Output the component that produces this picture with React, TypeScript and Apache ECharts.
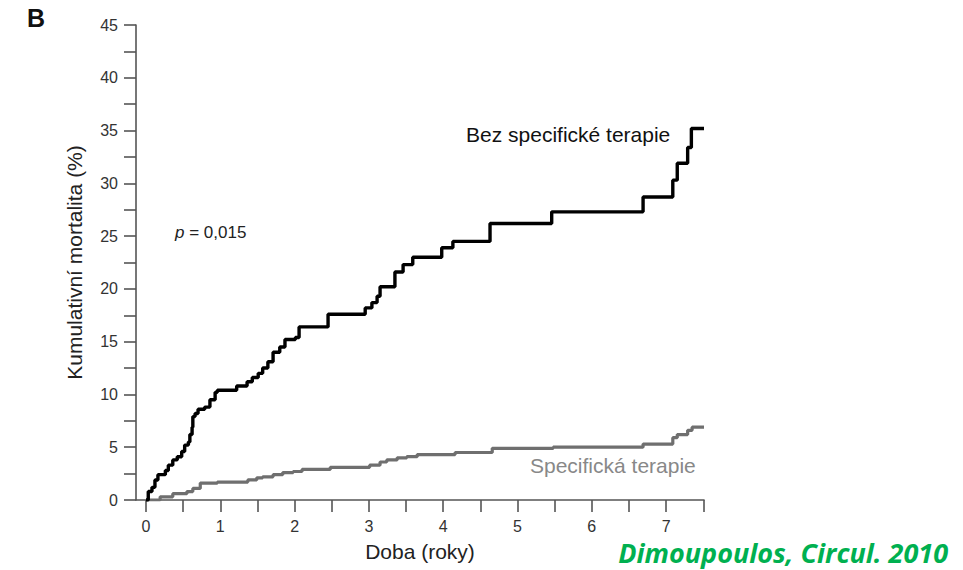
import React, { useEffect, useRef } from "react";
import * as echarts from "echarts";

// Black curve: without specific therapy (years, cumulative mortality %)
const bezX = [0, 0.03, 0.08, 0.12, 0.16, 0.26, 0.30, 0.36, 0.42, 0.48, 0.52, 0.57, 0.59, 0.62, 0.63, 0.66, 0.70, 0.79, 0.86, 0.93, 0.96, 1.22, 1.36, 1.43, 1.51, 1.57, 1.64, 1.71, 1.80, 1.87, 2.01, 2.06, 2.45, 2.95, 3.04, 3.11, 3.15, 3.35, 3.46, 3.59, 3.98, 4.13, 4.63, 5.46, 6.69, 7.09, 7.15, 7.29, 7.34, 7.51];
const bezY = [0, 0.8, 1.2, 1.9, 2.4, 2.8, 3.3, 3.8, 4.1, 4.6, 5.2, 5.5, 6.2, 6.9, 7.9, 8.2, 8.6, 8.8, 9.5, 10.2, 10.4, 10.8, 11.2, 11.6, 12.0, 12.5, 13.1, 14.0, 14.5, 15.2, 15.4, 16.4, 17.6, 18.2, 18.7, 19.3, 20.2, 21.6, 22.3, 23.0, 23.9, 24.5, 26.2, 27.3, 28.7, 30.3, 31.9, 33.4, 35.2, 35.2];

// Gray curve: specific therapy
const speX = [0, 0.19, 0.36, 0.55, 0.63, 0.73, 0.96, 1.37, 1.49, 1.57, 1.71, 1.84, 1.98, 2.10, 2.48, 3.01, 3.15, 3.24, 3.38, 3.51, 3.65, 4.16, 4.66, 5.48, 6.69, 7.09, 7.15, 7.29, 7.35, 7.51];
const speY = [0, 0.3, 0.6, 0.8, 1.1, 1.6, 1.7, 1.9, 2.1, 2.2, 2.4, 2.6, 2.7, 2.9, 3.1, 3.3, 3.6, 3.8, 4.0, 4.1, 4.3, 4.5, 4.9, 5.0, 5.3, 5.9, 6.2, 6.6, 6.9, 6.9];

const xTicks = [0, 0.5, 1, 1.5, 2, 2.5, 3, 3.5, 4, 4.5, 5, 5.5, 6, 6.5, 7, 7.5];
const xLabels = [0, 1, 2, 3, 4, 5, 6, 7];

const xName = "Doba (roky)";
const yName = "Kumulativní mortalita (%)";
const panelLabel = "B";
const pText = "0,015";
const labelBez = "Bez specifické terapie";
const labelSpe = "Specifická terapie";
const citation = "Dimoupoulos, Circul. 2010";

const FONT = "Liberation Sans, Arial, sans-serif";

export default function App() {
  const ref = useRef<HTMLDivElement>(null);
  useEffect(() => {
    if (!ref.current) return;
    const chart = echarts.init(ref.current, null, { renderer: "svg" });
    const axisColor = "#555";
    chart.setOption({
      animation: false,
      backgroundColor: "#fff",
      textStyle: { fontFamily: FONT },
      grid: { left: 136, right: 259, top: 25, bottom: 70, containLabel: false },
      xAxis: {
        type: "value",
        min: -0.135,
        max: 7.51,
        name: xName,
        nameLocation: "middle",
        nameGap: 41,
        nameTextStyle: { fontSize: 21, color: "#222", fontFamily: FONT },
        axisLine: { show: true, onZero: false, lineStyle: { color: axisColor, width: 1.6 } },
        axisTick: { show: true, length: 12, customValues: xTicks, lineStyle: { color: axisColor, width: 1.6 } },
        axisLabel: { customValues: xLabels, margin: 18, fontSize: 16, color: "#333", fontFamily: FONT },
        splitLine: { show: false },
      },
      yAxis: {
        type: "value",
        min: 0,
        max: 45,
        interval: 2.5,
        name: yName,
        nameLocation: "middle",
        nameGap: 51,
        nameTextStyle: { fontSize: 21, color: "#222", fontFamily: FONT },
        axisLine: { show: true, onZero: false, lineStyle: { color: axisColor, width: 1.6 } },
        axisTick: { show: true, length: 12, lineStyle: { color: axisColor, width: 1.6 } },
        axisLabel: {
          margin: 18,
          fontSize: 16,
          color: "#333",
          fontFamily: FONT,
          formatter: (v: number) => (Math.abs(v % 5) < 1e-9 ? String(v) : ""),
        },
        splitLine: { show: false },
      },
      series: [
        {
          type: "line",
          step: "end",
          data: speX.map((x, i) => [x, speY[i]]),
          showSymbol: false,
          lineStyle: { color: "#6f6f6f", width: 3.2 },
          z: 2,
        },
        {
          type: "line",
          step: "end",
          data: bezX.map((x, i) => [x, bezY[i]]),
          showSymbol: false,
          lineStyle: { color: "#000", width: 3.4 },
          z: 3,
        },
      ],
      graphic: [
        {
          type: "text",
          left: 27,
          top: 5,
          style: { text: panelLabel, font: "bold 25px " + FONT, fill: "#111" },
        },
        {
          type: "text",
          left: 175,
          top: 224,
          style: {
            text: "{i|p} = " + pText,
            font: "17px " + FONT,
            fill: "#222",
            rich: { i: { fontStyle: "italic", fontSize: 17, fontFamily: FONT, fill: "#222" } },
          },
        },
        {
          type: "text",
          left: 466,
          top: 124,
          style: { text: labelBez, font: "21px " + FONT, fill: "#111" },
        },
        {
          type: "text",
          left: 530,
          top: 455,
          style: { text: labelSpe, font: "21px " + FONT, fill: "#888" },
        },
        {
          type: "text",
          right: 15,
          top: 538,
          style: {
            text: citation,
            font: "italic bold 27px 'Open Sans', sans-serif",
            lineHeight: 29,
            fill: "#00b050",
          },
        },
      ],
    });
    return () => chart.dispose();
  }, []);
  return <div ref={ref} style={{ position: "absolute", left: 0, top: 0, width: 963, height: 570 }} />;
}
